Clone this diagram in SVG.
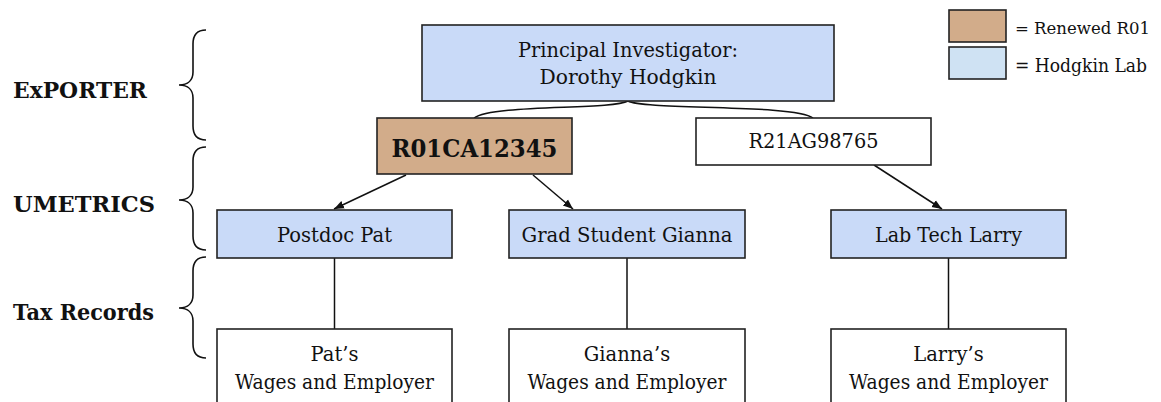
<svg xmlns="http://www.w3.org/2000/svg" width="1161" height="402" viewBox="0 0 1161 402">
<defs>
<marker id="ah" viewBox="0 0 10 10" refX="10" refY="5" markerWidth="10" markerHeight="10" markerUnits="userSpaceOnUse" orient="auto">
<path d="M0,1 L10,5 L0,9 Z" fill="#111"/>
</marker>
<style>
.t{font-family:"DejaVu Serif","Liberation Serif",serif;font-size:19.5px;fill:#111;text-anchor:middle}
.lab{font-family:"DejaVu Serif","Liberation Serif",serif;font-size:22.5px;font-weight:bold;fill:#111}
.leg{font-family:"DejaVu Serif","Liberation Serif",serif;font-size:18.5px;fill:#111}
.box{stroke:#222;stroke-width:1.6}
.blue{fill:#C9DAF8}
.tan{fill:#D2AC8A}
.white{fill:#fff}
.con{fill:none;stroke:#111;stroke-width:1.5}
.brace{fill:none;stroke:#111;stroke-width:1.6}
</style>
</defs>
<rect width="1161" height="402" fill="#fff"/>

<g id="braces">
<path class="brace" d="M206,30 C197,30 193,35 193,44 L193,72 C193,80 188,85 179,85 C188,85 193,90 193,98 L193,126 C193,135 197,140 206,140"/>
<path class="brace" d="M206,147 C197,147 193,152 193,161 L193,187 C193,195 188,200 179,200 C188,200 193,205 193,213 L193,236 C193,245 197,250 206,250"/>
<path class="brace" d="M206,257 C197,257 193,262 193,271 L193,295 C193,303 188,308 179,308 C188,308 193,313 193,321 L193,344 C193,353 197,358 206,358"/>
</g>

<g id="labels">
<text class="lab" x="13" y="98" textLength="134" lengthAdjust="spacingAndGlyphs">ExPORTER</text>
<text class="lab" x="13" y="212" textLength="142" lengthAdjust="spacingAndGlyphs">UMETRICS</text>
<text class="lab" x="13" y="320" textLength="141" lengthAdjust="spacingAndGlyphs">Tax Records</text>
</g>

<g id="legend">
<rect class="box tan" x="949" y="10" width="57" height="32"/>
<text class="leg" x="1015" y="34" style="font-size:17.5px" textLength="135" lengthAdjust="spacingAndGlyphs">= Renewed R01</text>
<rect class="box" fill="#CFE2F3" x="949" y="47" width="57" height="32"/>
<text class="leg" x="1015" y="72" textLength="132" lengthAdjust="spacingAndGlyphs">= Hodgkin Lab</text>
</g>

<g id="connectors">
<path class="con" d="M628,101 C612,110 492,104 474,118"/>
<path class="con" d="M628,101 C644,110 795,104 813,118"/>
<line class="con" x1="406" y1="175" x2="334" y2="209" marker-end="url(#ah)"/>
<line class="con" x1="533" y1="175" x2="573" y2="209" marker-end="url(#ah)"/>
<line class="con" x1="874" y1="165" x2="942" y2="209" marker-end="url(#ah)"/>
<line class="con" x1="334.5" y1="258" x2="334.5" y2="329"/>
<line class="con" x1="627" y1="258" x2="627" y2="329"/>
<line class="con" x1="948.5" y1="258" x2="948.5" y2="329"/>
</g>

<g id="pi">
<rect class="box blue" x="422" y="25" width="412" height="76"/>
<text class="t" x="628" y="57" textLength="220" lengthAdjust="spacingAndGlyphs">Principal Investigator:</text>
<text class="t" x="628" y="84" textLength="177" lengthAdjust="spacingAndGlyphs">Dorothy Hodgkin</text>
</g>

<g id="r01">
<rect class="box tan" x="377" y="118" width="195" height="56"/>
<text class="t" x="474.5" y="157" style="font-weight:bold;font-size:23.5px" textLength="166" lengthAdjust="spacingAndGlyphs">R01CA12345</text>
</g>

<g id="r21">
<rect class="box white" x="696" y="118" width="235" height="47"/>
<text class="t" x="813.5" y="148" textLength="130" lengthAdjust="spacingAndGlyphs">R21AG98765</text>
</g>

<g id="pat">
<rect class="box blue" x="217" y="210" width="235" height="48"/>
<text class="t" x="334.5" y="242" textLength="115" lengthAdjust="spacingAndGlyphs">Postdoc Pat</text>
</g>

<g id="gianna">
<rect class="box blue" x="509" y="210" width="236" height="48"/>
<text class="t" x="627" y="242" textLength="211" lengthAdjust="spacingAndGlyphs">Grad Student Gianna</text>
</g>

<g id="larry">
<rect class="box blue" x="831" y="210" width="235" height="48"/>
<text class="t" x="948.5" y="242" textLength="147" lengthAdjust="spacingAndGlyphs">Lab Tech Larry</text>
</g>

<g id="pat-tax">
<rect class="box white" x="217" y="329" width="235" height="90"/>
<text class="t" x="334.5" y="361">Pat’s</text>
<text class="t" x="334.5" y="389" textLength="199" lengthAdjust="spacingAndGlyphs">Wages and Employer</text>
</g>

<g id="gianna-tax">
<rect class="box white" x="509" y="329" width="236" height="90"/>
<text class="t" x="627" y="361">Gianna’s</text>
<text class="t" x="627" y="389" textLength="199" lengthAdjust="spacingAndGlyphs">Wages and Employer</text>
</g>

<g id="larry-tax">
<rect class="box white" x="831" y="329" width="235" height="90"/>
<text class="t" x="948.5" y="361">Larry’s</text>
<text class="t" x="948.5" y="389" textLength="199" lengthAdjust="spacingAndGlyphs">Wages and Employer</text>
</g>
</svg>
